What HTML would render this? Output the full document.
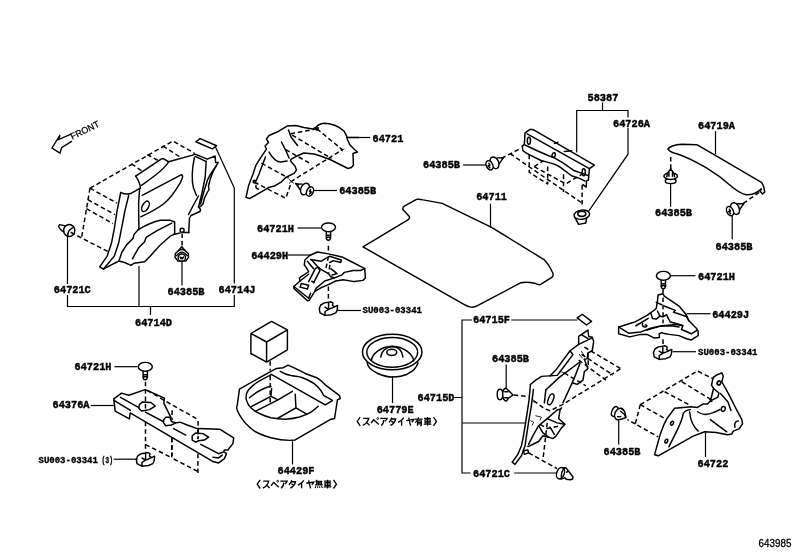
<!DOCTYPE html>
<html><head><meta charset="utf-8"><style>
html,body{margin:0;padding:0;background:#fff;}
svg{display:block;will-change:transform}
</style></head><body>
<svg width="811" height="560" viewBox="0 0 811 560">
<rect width="811" height="560" fill="#fff"/>

<g font-family="Liberation Mono" font-weight="bold" font-size="11.5" fill="#000" stroke="#000" stroke-width="0.45">
<text x="53.8" y="293.2" textLength="37.0" lengthAdjust="spacingAndGlyphs">64721C</text>
<text x="167.5" y="294.9" textLength="37.0" lengthAdjust="spacingAndGlyphs">64385B</text>
<text x="218.5" y="292.7" textLength="37.0" lengthAdjust="spacingAndGlyphs">64714J</text>
<text x="135" y="325.7" textLength="37.0" lengthAdjust="spacingAndGlyphs">64714D</text>
<text x="372.5" y="141.7" textLength="30.8" lengthAdjust="spacingAndGlyphs">64721</text>
<text x="339.2" y="194.2" textLength="37.0" lengthAdjust="spacingAndGlyphs">64385B</text>
<text x="257" y="231.7" textLength="37.0" lengthAdjust="spacingAndGlyphs">64721H</text>
<text x="251.2" y="258.9" textLength="37.0" lengthAdjust="spacingAndGlyphs">64429H</text>
<text x="423" y="168.4" textLength="37.0" lengthAdjust="spacingAndGlyphs">64385B</text>
<text x="476.2" y="200.4" textLength="30.8" lengthAdjust="spacingAndGlyphs">64711</text>
<text x="587.5" y="101.4" textLength="30.8" lengthAdjust="spacingAndGlyphs">58387</text>
<text x="613" y="126.7" textLength="37.0" lengthAdjust="spacingAndGlyphs">64726A</text>
<text x="698" y="129.2" textLength="37.0" lengthAdjust="spacingAndGlyphs">64719A</text>
<text x="655" y="216.4" textLength="37.0" lengthAdjust="spacingAndGlyphs">64385B</text>
<text x="715.5" y="250.2" textLength="37.0" lengthAdjust="spacingAndGlyphs">64385B</text>
<text x="698" y="279.9" textLength="37.0" lengthAdjust="spacingAndGlyphs">64721H</text>
<text x="712.2" y="317.7" textLength="37.0" lengthAdjust="spacingAndGlyphs">64429J</text>
<text x="473" y="323.4" textLength="37.0" lengthAdjust="spacingAndGlyphs">64715F</text>
<text x="492" y="362.2" textLength="37.0" lengthAdjust="spacingAndGlyphs">64385B</text>
<text x="417.5" y="400.9" textLength="37.0" lengthAdjust="spacingAndGlyphs">64715D</text>
<text x="473" y="476.7" textLength="37.0" lengthAdjust="spacingAndGlyphs">64721C</text>
<text x="603.5" y="454.7" textLength="37.0" lengthAdjust="spacingAndGlyphs">64385B</text>
<text x="697.5" y="467.2" textLength="30.8" lengthAdjust="spacingAndGlyphs">64722</text>
<text x="74.5" y="370.4" textLength="37.0" lengthAdjust="spacingAndGlyphs">64721H</text>
<text x="52.5" y="408.4" textLength="37.0" lengthAdjust="spacingAndGlyphs">64376A</text>
<text x="376.7" y="412.7" textLength="37.0" lengthAdjust="spacingAndGlyphs">64779E</text>
<text x="277.5" y="473.9" textLength="37.0" lengthAdjust="spacingAndGlyphs">64429F</text>
</g>
<g font-family="Liberation Mono" font-weight="bold" font-size="9.8" fill="#000" stroke="#000" stroke-width="0.35">
<text x="362.5" y="313.0" textLength="59.5" lengthAdjust="spacingAndGlyphs">SU003-03341</text>
<text x="698" y="354.8" textLength="59.5" lengthAdjust="spacingAndGlyphs">SU003-03341</text>
<text x="38.5" y="462.6" textLength="59.4" lengthAdjust="spacingAndGlyphs">SU003-03341</text>
<text x="101.4" y="462.6" textLength="11.6" lengthAdjust="spacingAndGlyphs">(3)</text>
</g>
<text font-family="Liberation Sans" font-size="10.5" stroke="#000" stroke-width="0.3" x="758.6" y="546.7" textLength="32.8" lengthAdjust="spacingAndGlyphs">643985</text>
<text font-family="Liberation Sans" font-size="9" stroke="#000" stroke-width="0.25" transform="translate(72.3,139.8) rotate(-26)" x="0" y="0">FRONT</text>
<!-- 00_leaders.svg -->
<g fill="none" stroke="#000" stroke-width="1.2" stroke-linecap="butt" stroke-linejoin="miter">
<!-- front arrow -->
<path stroke-width="1.4" d="M71,134.2 L58.6,139.6 L60,135 L52,148 L60,153.2 L61.6,147.6 L72,141.2"/>
<!-- 64714D bracket -->
<path d="M67.5,236 V284 M67.5,295 V306.5 H234.3 V295 M234.3,283.5 V188"/>
<path d="M139,266 V306.5 M150.5,306.5 V315"/>
<path d="M182,262 V285.5"/>
<path d="M234.3,188 L215.5,147"/>
<!-- 64721 -->
<path d="M347,137.5 H370"/>
<path d="M312.5,190.5 H337"/>
<path d="M297.5,228 H321"/>
<path d="M288,255 H311"/>
<path d="M337,310.5 H361"/>
<!-- 64385B left of 58387 -->
<path d="M463,165 H486"/>
<path d="M490.5,203.7 V228"/>
<path d="M576.7,152.5 V110.5 H628 V117.5 M628,128 V154.2 L588.7,211.2 M602.5,102.5 V110.5"/>
<path d="M715.5,131.2 V154.2"/>
<path d="M670.6,183.7 V206.7"/>
<path d="M732.2,215 V239.2"/>
<path d="M670.5,275.7 H695.5"/>
<path d="M686.7,313.7 H710.5"/>
<path d="M672.5,351.7 H696"/>
<path d="M705.5,432.5 V457"/>
<path d="M618.7,418.7 V444.5"/>
<!-- 64715D bracket -->
<path d="M472,320 H462 V473 H470.5 M454.2,397.5 H462 M462,423 H526"/>
<path d="M511.2,320 H577.5"/>
<path d="M506.2,364.5 V388.2"/>
<path d="M514.2,473 H557.5"/>
<!-- bottom-left -->
<path d="M114.5,366.7 H137.5"/>
<path d="M90.7,405.5 H113.7"/>
<path d="M113.7,459.2 H137.5"/>
<path d="M292.5,441.2 V464.5"/>
<path d="M392.5,376.2 V403"/>
</g>

<!-- 01_trimL.svg -->
<!-- tile Z7b origin (110,136) -->
<g transform="translate(110,136) scale(0.14303)" fill="none" stroke="#000" stroke-width="10.3" stroke-linejoin="round" stroke-linecap="round">
<g stroke-dasharray="32 20" stroke-linecap="butt">
<path d="M-140,365 L440,35 L590,120"/>
<path d="M370,70 L495,150 M260,130 L335,170 M150,195 L225,245"/>
<path d="M-140,365 L50,470 M-155,445 L35,550 M-165,508 L20,612"/>
<path d="M-140,365 L-199,713"/>
<path d="M-275,673 L-199,713 L-14,808"/>
</g>
<path d="M180,280 L360,160 L372,158 L410,180 L590,130"/>
<path d="M410,180 C390,220 300,290 220,345"/>
<path d="M180,280 C200,310 212,335 212,365 L150,400 C120,412 95,405 75,395"/>
<path d="M75,395 L50,520 L30,650 L10,750 L-20,840 L-72,915 L-45,930"/>
<path d="M130,418 L105,520 L80,650 L60,750 L30,840 L-45,930"/>
<path d="M207,370 L200,470 L202,655"/>
<path d="M225,415 L500,270 C515,275 505,300 490,330 C460,380 420,440 380,470 C330,510 280,535 215,565"/>
<ellipse cx="248" cy="492" rx="21" ry="40" transform="rotate(28 248 492)"/>
<path d="M590,125 L680,162 L735,140 L738,186 L756,186"/>
<path d="M596,143 L670,177"/>
<path d="M600,40 L630,18 L745,68 L715,90 Z"/>
</g>
<!-- tile Z7 origin (96,196) -->
<g transform="translate(96,196) scale(0.14303)" fill="none" stroke="#000" stroke-width="10.3" stroke-linejoin="round" stroke-linecap="round">
<path d="M295,235 C330,215 400,180 450,170 L520,170 L550,182 L550,265 L520,280 C470,320 420,370 380,420 L340,460 L265,470 L245,485 L200,465 L160,455 L130,470 L55,510"/>
<path d="M295,235 L265,270 L260,295 L215,340 L180,395 L160,455"/>
<path d="M530,190 L430,240 L350,290 L340,320 L300,360 L265,420 L255,440"/>
<path d="M550,268 L590,258 M612,255 L650,255"/>
<circle cx="602" cy="240" r="14"/>
<path d="M602,262 V350" stroke-dasharray="32 20" stroke-linecap="butt"/>
</g>
<!-- clip 64721C left -->
<g fill="none" stroke="#000" stroke-width="1.45" stroke-linejoin="round" stroke-linecap="round">
<ellipse cx="69.2" cy="230.5" rx="5.6" ry="6"/>
<path d="M65.4,225.9 L59.6,224.6 C58.6,225.4 58.6,226.6 59,227.4 L61.4,230.4 L63.8,231.8"/>
<path d="M67.9,236 C67.4,233 68.2,230.2 72.4,227.8"/>
<!-- clip 64385B under part -->
<path d="M181.8,246.8 L178.6,250.4 L175.4,253.6 L175,257.2 L177.9,261.1 H185.8 L188.6,257.2 L188.3,253.6 L185,250.4 Z"/>
<path d="M178.6,250.4 Q181.8,248.8 185,250.4"/>
<path d="M176.6,255.6 Q181.8,248.6 187.2,255.6"/>
<circle cx="181.8" cy="257.7" r="3.7"/>
<path d="M180.2,257 L181,258.8 L181.8,257.6 L182.6,258.8 L183.4,257" stroke-width="1.4"/>
</g>
<!-- pillar (real coords) -->
<g fill="none" stroke="#000" stroke-width="1.45" stroke-linejoin="round" stroke-linecap="round">
<path d="M206.2,161.2 L205.2,177 L202,193 L198.5,207"/>
<path d="M218.1,162.6 C215,167 212,173.5 210,180 L208.5,186 L209,189.5 L207,193 L204.5,198 L203,204 L200.5,206.5 L198.5,207 L200.5,209.5 L200,211.5 L191,215.5 L189.5,218 L188.7,232.5"/>
<path d="M216.1,166.3 C212.5,171 209.5,175.5 207.5,180 L203.5,193 L200.5,204"/>
<path d="M194.4,157.5 C192.3,167.5 190.8,177.5 193.5,188 L196.5,195.5"/>
<path d="M198.5,196 L194,204 L188.5,214.5"/>
</g>

<!-- 02_wheelL.svg -->
<!-- tile origin (240,116) s=6.99 -->
<g transform="translate(240,116) scale(0.14303)" fill="none" stroke="#000" stroke-width="10.3" stroke-linejoin="round" stroke-linecap="round">
<path d="M42,568 L62,480 L91,405 L112,343 L147,287 L185,231 L175,210 L199,185 L185,161 L203,136 L259,112 L329,70 L391,66 L447,80 L510,91 L531,77 C545,62 575,50 594,50 C640,52 690,70 727,105 C740,125 748,145 751,164 L769,203 L797,231 L821,252 L790,262 L793,343 L779,360 L755,367 L629,304 L552,276 L517,266 L447,259 L398,280 L357,301 L353,315 L384,350 L395,377 L380,400 L320,430 L290,460 L240,490 L200,500 L67,578 Z"/>
<path d="M339,98 L357,147 L402,206"/>
<path d="M290,182 L322,245 L343,294"/>
<path d="M203,252 C225,290 250,322 285,322 L329,315"/>
<path d="M178,287 L133,405 L112,455"/>
<path d="M748,150 H830"/>
<g stroke-dasharray="32 20" stroke-linecap="butt">
<path d="M538,90 L716,236 L362,455 L320,575 L105,465"/>
<path d="M538,90 L350,125 L640,297"/>
<path d="M320,235 L495,335"/>
<path d="M150,330 L340,435"/>
<path d="M385,470 L430,490"/>
</g>
<path d="M345,445 L375,470 M375,445 L345,470 M698,222 L715,245 M705,238 L728,230" stroke-width="6"/>
<path d="M546,82 C536,76 526,84 532,94 C538,102 550,98 546,88 L533,92"/>
<path d="M108,452 C98,446 88,454 94,464 C100,472 112,468 108,458 L95,462 M112,485 C108,500 118,512 130,510"/>
</g>

<!-- 03_brkH.svg -->
<defs>
<g id="pin" fill="none" stroke="#000" stroke-width="1.45" stroke-linejoin="round" stroke-linecap="round">
<ellipse cx="0" cy="0" rx="7" ry="4.4" fill="#fff"/>
<path d="M-2.2,4.4 V10.6 M2.1,4.4 V10.6 M-2.2,8 H2.1"/>
<ellipse cx="-0.1" cy="11.3" rx="1.9" ry="1.6"/>
</g>
<g id="nut" fill="none" stroke="#000" stroke-width="1.45" stroke-linejoin="round" stroke-linecap="round">
<path d="M0,-6.4 L-4.3,-5.7 L-7.9,-3.6 L-9.3,0 L-8.6,4.3 L-3.6,6.8 L2.9,6.1 L7.2,4.3 L8.6,1.4 L9,-3.2 L5.7,-1.8 L3.9,-3.2 L4.3,-5.7 L2.2,-6.8 Z"/>
<path d="M-3.6,6.8 V2.9 L0,0.7 L3.6,-0.7 L5.7,-1.8 M0,-5.7 V0.7 M-3.6,-1.4 L0,0.7"/>
</g>
</defs>
<use href="#pin" x="328.5" y="227.3"/>
<use href="#nut" x="328.6" y="308.6"/>
<!-- tile origin (284,244) s=8.11 -->
<g transform="translate(284,244) scale(0.1233)" fill="none" stroke="#000" stroke-width="12" stroke-linejoin="round" stroke-linecap="round">
<path d="M205,95 L270,65 L360,80 L470,105 L560,150 L655,200 L660,275 L640,295 L570,305 L480,290 L420,300 L360,330 L300,355 L250,385 L205,455 L190,460 L80,360 L80,345 L130,300 L125,275 L200,225 L180,190 L165,170 L170,130 Z"/>
<path d="M655,200 L620,215 L560,215 L490,230 L470,250 L410,275 L380,265 L360,240"/>
<path d="M255,198 L200,305 M292,214 L240,315 M255,198 L275,190 L292,214 M225,302 L245,312"/>
<path d="M140,320 L200,335 L190,365 L130,350 Z"/>
<path d="M80,345 L200,440 L215,400 M250,382 L260,360 L330,300 L410,275"/>
<path d="M215,125 L300,140 L335,118 L370,100 L465,130 L460,150 L400,135 L370,150"/>
<path d="M190,140 L240,200 M225,130 L270,180 L300,205 L360,240 M380,200 L430,240 L390,252"/>
<path d="M130,300 L200,245"/>
<g stroke-dasharray="37 23" stroke-linecap="butt">
<path d="M360,15 V60 M360,100 L340,200 M372,170 L362,240 M360,345 V450"/>
</g>
</g>

<!-- 04_mat.svg -->
<g fill="none" stroke="#000" stroke-width="1.45" stroke-linejoin="round" stroke-linecap="round">
<path d="M363,246.9 L408.3,219.7 Q410.2,218 409.1,216.2 L402.9,209.4 Q402.5,207.4 404.3,206.2 L416.5,199.4 Q419,198.8 423.2,199.9 L442.2,203.4 L491.1,227.1 L544,259.6 Q548.5,264 552.9,273.2 Q553.6,276 552.1,277.2 L539.9,284.8 Q537.5,284.8 534.5,283.2 Q527,281.5 520.9,282.7 L477.5,305.7 Q474,307.6 470.7,307.1 Q467,306.4 463.9,304.4 Z"/>
</g>

<!-- 05_brk58387.svg -->
<!-- tile origin (480,120) s=6.99 -->
<g transform="translate(480,120) scale(0.14303)" fill="none" stroke="#000" stroke-width="10.3" stroke-linejoin="round" stroke-linecap="round">
<path d="M300,180 L310,170 L315,90 L350,65 L372,68 L800,315 L765,340 L758,420 L745,426 L742,470 L720,452"/>
<path d="M330,97 L765,340"/>
<path d="M520,165 L545,155 M590,220 L640,215"/>
<path d="M295,180 L300,215 L330,235 L430,285 C470,295 520,300 560,330 L640,390 L700,410 L735,428"/>
<path d="M315,175 L400,215 L480,250 L520,265 L580,300 L660,355 L720,375 L755,388"/>
<ellipse cx="342" cy="145" rx="11" ry="24"/>
<ellipse cx="515" cy="245" rx="11" ry="17" transform="rotate(15 515 245)"/>
<ellipse cx="725" cy="365" rx="11" ry="24"/>
<g stroke-dasharray="32 20" stroke-linecap="butt">
<path d="M150,268 L285,198"/>
<path d="M210,235 L714,581"/>
<path d="M344,243 V365 L473,447 V314"/>
<path d="M584,380 V503"/>
<path d="M379,326 L599,447 L717,377"/>
<path d="M714,455 V600"/>
<path d="M379,326 L442,286"/>
</g>
</g>
<!-- clip B left of bracket -->
<g fill="none" stroke="#000" stroke-width="1.45" stroke-linejoin="round" stroke-linecap="round">
<!-- grommet 64726A -->
<ellipse cx="581.8" cy="214.7" rx="7.8" ry="4.6" transform="rotate(-8 581.8 214.7)"/>
<ellipse cx="581.8" cy="213.8" rx="4" ry="2.6" stroke-width="1.6"/>
<path d="M575.2,218.2 L578.6,224.4 L585.8,223 L586.6,218"/>
</g>

<!-- 06_bar.svg -->
<!-- tile origin (656,134) s=6.99 -->
<g transform="translate(656,134) scale(0.14303)" fill="none" stroke="#000" stroke-width="10.3" stroke-linejoin="round" stroke-linecap="round">
<path d="M85,105 C90,90 130,75 180,72 L285,75 L415,150 L740,340 C752,360 758,385 760,405 L745,420 L728,400 L735,385"/>
<path d="M85,105 C88,120 110,130 150,140 C200,155 270,190 350,235 C400,265 470,315 520,360 C560,395 590,415 630,425 C670,428 700,415 735,385"/>
<g stroke-dasharray="32 20" stroke-linecap="butt">
<path d="M103,160 V250"/>
<path d="M722,408 L600,492"/>
</g>
</g>

<!-- 07_brkJ.svg -->
<use href="#pin" x="663.4" y="275.8"/>
<use href="#nut" x="662.8" y="352.6"/>
<!-- tile origin (610,290) s=8.11 -->
<g transform="translate(610,290) scale(0.1233)" fill="none" stroke="#000" stroke-width="12" stroke-linejoin="round" stroke-linecap="round">
<path d="M390,40 L430,30 L440,50 L560,130 L610,190 L640,250 L700,310 L715,335 L715,370 L660,405 L620,395 L560,370 L480,360 L430,350 L420,345 L400,355 L400,385 L360,390 L340,380 L300,360 L250,360 L160,380 L70,355 L70,300 L200,260 L300,205 L350,170 L375,150 L385,90 Z"/>
<path d="M70,300 L150,350 L250,340 L330,310 L420,290 L540,280 L590,290 L580,320 L660,355 L705,328"/>
<path d="M300,325 L400,295 L500,290 L560,300"/>
<path d="M210,290 L310,230"/>
<path d="M440,130 L530,165 L515,180 L560,195 L625,218"/>
<path d="M470,225 L490,260 L530,270 L590,288"/>
<path d="M375,100 L420,120 M400,212 L430,217 L460,200 L470,225"/>
<path d="M330,185 L345,232 L375,236 L405,212 L385,170"/>
<path d="M265,270 C255,285 270,305 290,300 C305,295 300,280 285,285"/>
<path d="M610,190 L625,218 L640,250"/>
<g stroke-dasharray="37 23" stroke-linecap="butt">
<path d="M430,-10 V30 M430,60 V270 M430,400 V445"/>
</g>
</g>

<!-- 08_wheelR.svg -->
<!-- tile origin (636,366) s=6.99 -->
<g transform="translate(636,366) scale(0.14303)" fill="none" stroke="#000" stroke-width="10.3" stroke-linejoin="round" stroke-linecap="round">
<path d="M540,80 L560,65 L600,48 L610,70 L600,110 L650,200 L700,300 L740,375 L745,405 L720,440 L680,455 L670,475 L640,480 L560,465 L480,460 L400,490 L285,555 L155,628 L130,620 L170,475 L195,410 L215,370 L270,295 L330,290 L380,285 L430,290 L470,265 L500,265 L520,245 L524,231 L542,157 L528,133 Z"/>
<path d="M542,157 L580,189 L573,217 L528,241"/>
<ellipse cx="580" cy="119" rx="12" ry="14" transform="rotate(30 580 119)" stroke-width="12"/>
<ellipse cx="610" cy="300" rx="14" ry="17" transform="rotate(20 610 300)"/>
<ellipse cx="252" cy="400" rx="9" ry="14" transform="rotate(25 252 400)"/>
<ellipse cx="212" cy="525" rx="9" ry="14" transform="rotate(25 212 525)"/>
<path d="M380,305 C350,308 335,320 330,335 C320,400 280,460 230,565"/>
<path d="M375,320 C380,380 400,425 435,455"/>
<path d="M430,320 C470,348 510,345 585,305"/>
<path d="M520,375 L580,420 L635,460"/>
<path d="M591,192 L643,252 L664,311"/>
<path d="M715,385 C695,385 685,405 692,428"/>
<path d="M518,232 L528,246" stroke-width="14"/>
<g stroke-dasharray="32 20" stroke-linecap="butt">
<path d="M30,270 L430,35 L540,90"/>
<path d="M320,110 L520,232"/>
<path d="M200,180 L385,278"/>
<path d="M30,270 L215,375"/>
<path d="M30,270 L-5,405 L155,495"/>
<path d="M-5,405 L-60,375"/>
</g>
</g>

<!-- 09_trimR.svg -->
<!-- tile origin (510,310) s=6.99 -->
<g transform="translate(510,310) scale(0.14303)" fill="none" stroke="#000" stroke-width="10.3" stroke-linejoin="round" stroke-linecap="round">
<path d="M470,55 L505,30 L570,80 L535,105 Z"/>
<path d="M480,240 L480,185 L545,140 L550,185 L575,190 L585,220 L575,285 L545,300 L540,340 L520,345"/>
<path d="M480,240 L575,195 M500,172 L545,200"/>
<path d="M480,240 L420,285 L440,312 L342,442 L330,457 L221,464 L180,490 L142,521"/>
<path d="M420,285 L320,420 L280,462"/>
<path d="M493,360 L342,473 L250,559"/>
<path d="M490,370 L460,450 L430,520"/>
<path d="M520,345 L545,410 L520,430 L510,490 L470,520 L440,510"/>
<path d="M350,430 L380,440 M500,290 L520,320 M485,310 L505,335" stroke-width="6"/>
<g stroke-dasharray="32 20" stroke-linecap="butt">
<path d="M520,260 L775,410"/>
<path d="M500,310 L720,455"/>
<path d="M480,350 L670,490"/>
<path d="M380,440 L530,530"/>
<path d="M545,300 L548,400"/>
</g>
</g>
<!-- tile origin (500,370) s=6.99 -->
<g transform="translate(500,370) scale(0.14303)" fill="none" stroke="#000" stroke-width="10.3" stroke-linejoin="round" stroke-linecap="round">
<path d="M213,101 L203,210 L182,350 L164,461"/>
<path d="M234,136 L220,245 L199,370 L185,461"/>
<path d="M320,140 L310,230"/>
<ellipse cx="355" cy="205" rx="17" ry="40" transform="rotate(22 355 205)"/>
<path d="M500,100 L440,230"/>
<path d="M225,200 L240,225 M250,320 L290,330 L280,350 M215,355 L235,365 L225,385" stroke-width="6"/>
<g stroke-dasharray="32 20" stroke-linecap="butt">
<path d="M95,175 L200,185"/>
<path d="M235,215 L310,270 L350,285 L440,240 L845,-10"/>
</g>
</g>
<!-- tile origin (500,410) s=6.99 -->
<g transform="translate(500,410) scale(0.14303)" fill="none" stroke="#000" stroke-width="10.3" stroke-linejoin="round" stroke-linecap="round">
<path d="M164,182 L150,250 L125,310 L85,365 L105,380 L150,320 L175,250 L185,182"/>
<path d="M165,285 L195,280 L200,300 L170,310 Z"/>
<path d="M430,-15 L420,0 L410,60 L455,100 L430,125 L390,185 L370,200 L340,190 L300,180 L270,220 L210,250 L195,255"/>
<path d="M420,-5 L400,0 L330,60 L270,110 L230,180 L200,240"/>
<path d="M270,110 L300,160 L340,190"/>
<path d="M330,60 L400,90 L450,100 M350,120 L380,170"/>
<g stroke-dasharray="32 20" stroke-linecap="butt">
<path d="M330,90 L300,350"/>
<path d="M200,300 L300,355 L400,410"/>
<path d="M280,100 L330,130 L420,110"/>
</g>
</g>

<!-- 10_rail.svg -->
<use href="#pin" x="145.3" y="366.8"/>
<use href="#nut" x="145.6" y="459.4"/>
<!-- tile origin (108,376) s=6.99 -->
<g transform="translate(108,376) scale(0.14303)" fill="none" stroke="#000" stroke-width="10.3" stroke-linejoin="round" stroke-linecap="round">
<path d="M40,160 L95,120 L145,135 L260,95 L395,155 L390,190 L430,270 L440,290"/>
<path d="M40,160 L50,245 L150,300 L155,258 L735,598"/>
<path d="M45,172 L157,241"/>
<path d="M87,150 L213,220 M262,252 L385,318"/>
<path d="M220,200 L240,182 L300,185 L330,210 L290,235 L235,245 L215,225 Z"/>
<g stroke-dasharray="32 20" stroke-linecap="butt">
<path d="M262,40 V240 M262,320 V530"/>
<path d="M448,240 V310 M448,430 V560"/>
<path d="M630,315 V440"/>
<path d="M275,100 L395,172 L630,305"/>
<path d="M262,480 L448,572"/>
</g>
</g>
<!-- tile origin (150,400) s=6.99 -->
<g transform="translate(150,400) scale(0.14303)" fill="none" stroke="#000" stroke-width="10.3" stroke-linejoin="round" stroke-linecap="round">
<path d="M180,160 L210,155 L260,175 L330,200 L490,205 L585,265 L580,305 L555,335 L545,350 L520,350 L515,360 L535,375 L520,410 L480,440 L440,430"/>
<path d="M480,375 L510,365 M440,400 L480,405 L505,385"/>
<path d="M165,200 L250,245 M355,310 L480,375"/>
<path d="M295,250 L320,230 L370,235 L410,260 L380,280 L340,285 L320,295 L295,280 Z"/>
<path d="M95,140 L110,120 L140,120 L150,150 L180,160 L150,175 L110,180 L95,160 Z"/>
<g stroke-dasharray="32 20" stroke-linecap="butt">
<path d="M152,265 V405 L335,500"/>
<path d="M335,375 V515"/>
<path d="M335,210 V275"/>
</g>
</g>

<!-- 11_tray.svg -->
<g fill="none" stroke="#000" stroke-width="1.45" stroke-linejoin="round" stroke-linecap="round">
<path d="M250.9,333.5 L271.6,321.3 L287.4,329.9 L266.6,342 Z M250.9,333.5 V353.5 L266.6,362.1 V342 M287.4,329.9 V349.9 L266.6,362.1"/>
</g>
<!-- tile origin (228,362) s=6.99 -->
<g transform="translate(228,362) scale(0.14303)" fill="none" stroke="#000" stroke-width="10.3" stroke-linejoin="round" stroke-linecap="round">
<path d="M80,190 L300,65 L340,45 L385,40 L420,22 L470,45 L540,80 L620,110 C650,125 665,145 680,160 L780,235 L785,255 L765,265 L745,395 L720,400 L470,545 L430,548 C380,548 340,540 300,530 C250,515 210,500 180,480 C140,450 120,430 100,400 C80,370 65,345 60,320 L65,300 Z"/>
<path d="M300,90 C240,120 200,140 180,160 C150,185 135,200 130,220 C125,240 125,255 130,270 C135,290 145,305 160,320 C180,340 200,350 220,360 C250,375 270,382 300,390 C340,398 370,400 400,400 C440,398 470,394 500,385 C530,375 555,365 580,350 C600,338 615,325 630,310"/>
<path d="M300,85 L680,300 L730,270"/>
<path d="M365,65 C390,80 410,90 440,95 C470,98 500,100 520,110 C550,122 580,135 600,150 C620,165 640,185 650,200 L670,235 L725,265"/>
<path d="M165,310 L300,240 L305,185 M300,240 L350,265 M190,345 L350,265 L450,205"/>
<path d="M470,225 L475,320 L345,395 M475,320 L550,365"/>
<path d="M150,250 C190,215 240,185 300,170"/>
<g stroke-dasharray="32 20" stroke-linecap="butt">
<path d="M295,-5 V60 M295,95 V290"/>
</g>
</g>

<!-- 12_cap.svg -->
<!-- tile origin (340,322) s=6.99 -->
<g transform="translate(340,322) scale(0.14303)" fill="none" stroke="#000" stroke-width="10.3" stroke-linejoin="round" stroke-linecap="round">
<ellipse cx="365" cy="210" rx="208" ry="124"/>
<ellipse cx="365" cy="212" rx="178" ry="104"/>
<path d="M190,285 C192,310 205,330 260,358 C300,375 330,385 365,385 C410,383 440,378 470,365 C510,345 535,325 545,285"/>
<path d="M220,268 C222,225 285,172 365,170 C445,172 510,225 515,272"/>
<path d="M285,245 C290,205 320,175 365,172 C410,175 435,205 440,245"/>
<ellipse cx="362" cy="212" rx="35" ry="22"/>
</g>

<!-- 13_jp.svg -->
<defs>
<g id="jpA" fill="none" stroke="#000" stroke-width="1.55" stroke-linecap="butt" stroke-linejoin="miter">
<path d="M4.6,0 L1.2,5 L4.6,10"/>
<g transform="translate(6.6,0)"><path d="M1.5,1.5 H8 C7,5 4.5,8 1,9.5 M5.2,5.8 L9,9.5"/></g>
<g transform="translate(16.8,0)"><path d="M0.5,6.8 L3.5,3 L9.5,8.5"/><circle cx="8.2" cy="1.7" r="1.1" stroke-width="1"/></g>
<g transform="translate(27,0)"><path d="M1,1.5 H9 C8.5,3 7.5,4 6.3,4.8 M5,3.2 C5,6 4.2,8 2,9.6"/></g>
<g transform="translate(37.2,0)"><path d="M4.2,0.5 C3.5,3 2.2,4.8 0.8,6 M3.8,2.2 H8.6 C8,5.5 6,8 2.5,9.6 M3.6,4.6 L6.8,6.6"/></g>
<g transform="translate(47.4,0)"><path d="M8,0.6 C6.5,3 4,4.8 1.2,6 M5.4,3.6 V9.8"/></g>
<g transform="translate(57.6,0)"><path d="M0.6,4 L9.4,2.6 C8.8,4 8,5 7,5.8 M3.4,0.6 L5.6,9.8"/></g>
</g>
<g id="jpSha" fill="none" stroke="#000" stroke-width="1.3" stroke-linecap="butt"><path d="M1,1.4 H9 M2,3 H8 V6.6 H2 Z M2,4.8 H8 M0.5,8.2 H9.5 M5,0 V10"/></g>
<g id="jpMu" fill="none" stroke="#000" stroke-width="1.3" stroke-linecap="butt"><path d="M3,0.2 L1.2,2.2 M2,1.6 H9 M0.5,5.8 H9.5 M1.5,3.7 H8.5 M2.6,1.6 V5.8 M4.5,1.6 V5.8 M6.4,1.6 V5.8 M8.2,1.6 V5.8 M1.5,7.4 L0.8,9.5 M3.5,7.6 L3.8,9.4 M5.8,7.6 L6.2,9.4 M8,7.4 L9.2,9.5"/></g>
<g id="jpYu" fill="none" stroke="#000" stroke-width="1.3" stroke-linecap="butt"><path d="M0.5,2.4 H9.5 M5,0 C4,3 2.5,5 0.6,6.4 M3.4,4 V10 M3.4,4.2 H8 V9 C8,10 7.5,10 6.5,9.8 M3.4,6 H8 M3.4,7.8 H8"/></g>
<g id="jpB" fill="none" stroke="#000" stroke-width="1.55" stroke-linecap="butt"><path d="M0.5,0 L3.9,5 L0.5,10"/></g>
</defs>
<g transform="translate(256.2,479.8) scale(0.86,0.87)">
<use href="#jpA"/><use href="#jpMu" x="67.8"/><use href="#jpSha" x="78"/><use href="#jpB" x="89.4"/>
</g>
<g transform="translate(356.2,417.1) scale(0.86,0.87)">
<use href="#jpA"/><use href="#jpYu" x="67.8"/><use href="#jpSha" x="78"/><use href="#jpB" x="89.4"/>
</g>

<!-- 14_clips.svg -->
<defs>
<!-- clip B: cone pointing upper-left; origin = centre of big disc -->
<g id="clipB" fill="none" stroke="#000" stroke-width="1.45" stroke-linejoin="round" stroke-linecap="round">
<path d="M-2.6,-4.9 L-8.8,-5 L-4.6,1"/>
<ellipse cx="0" cy="0" rx="4.1" ry="6.1" transform="rotate(25)" fill="#fff"/>
<ellipse cx="5" cy="2.5" rx="3.2" ry="4.9" transform="rotate(25 5 2.5)" fill="#fff"/>
<path d="M5.6,0.6 L4.6,2.6 L6.4,3 L4.6,5" stroke-width="1.5"/>
</g>
</defs>
<use href="#clipB" transform="translate(305,189)"/>
<use href="#clipB" transform="translate(494.5,162.8) scale(-1,1)"/>
<use href="#clipB" transform="translate(735,208.6) scale(-1,1)"/>
<g fill="none" stroke="#000" stroke-width="1.45" stroke-linejoin="round" stroke-linecap="round">
<!-- clip lower right (619,414) cone to lower-right -->
<ellipse cx="614.8" cy="411.5" rx="2.8" ry="5.2" transform="rotate(25 614.8 411.5)"/>
<ellipse cx="619.3" cy="414" rx="4.4" ry="6.1" transform="rotate(25 619.3 414)" fill="#fff"/>
<path d="M621.2,408.4 L624.6,411.2 L626,417.5 L620.4,419.6" fill="#fff"/>
<path d="M620.5,411.2 L624.4,414.2 L625.6,417 M617.6,416.7 L620.6,416.6"/>
<!-- clip left of 64715D (505,394.7) cone to right -->
<ellipse cx="500" cy="394.5" rx="2.8" ry="5.2"/>
<path d="M506,388.2 C501.5,388 501.5,401.2 506.5,401 L508.5,398.2 L513,395 L508.5,390.5 Z" fill="#fff"/>
<path d="M504.8,391.8 H508 M504.8,397.8 H507.5"/>
<!-- clip C bottom (560.5,473) -->
<ellipse cx="560.5" cy="473.2" rx="3.8" ry="5.8" transform="rotate(20 560.5 473.2)" fill="#fff"/>
<path d="M565,467.9 C562.6,469.6 561,474 561.4,479"/>
<path d="M562.6,467.6 L566,468 L568.5,471 L573,477 L572.5,479 L570.5,479.7 L566,479.2 L565,477.7 L563,478.6 L560,478.9"/>
<path d="M566.5,472.2 L568,471.5"/>
<!-- vertical clip under bar -->
<ellipse cx="670.7" cy="181.1" rx="5.4" ry="2.6"/>
<ellipse cx="670.7" cy="176.2" rx="6.8" ry="3.2" fill="#fff"/>
<path d="M666.9,176.8 L667.2,173.5 L670.7,168.9 L674,173.5 L674.6,176.8" fill="#fff"/>
<path d="M668.9,172.4 V176.2 M672.5,172.4 V176.2"/>
</g>

</svg>
</body></html>
